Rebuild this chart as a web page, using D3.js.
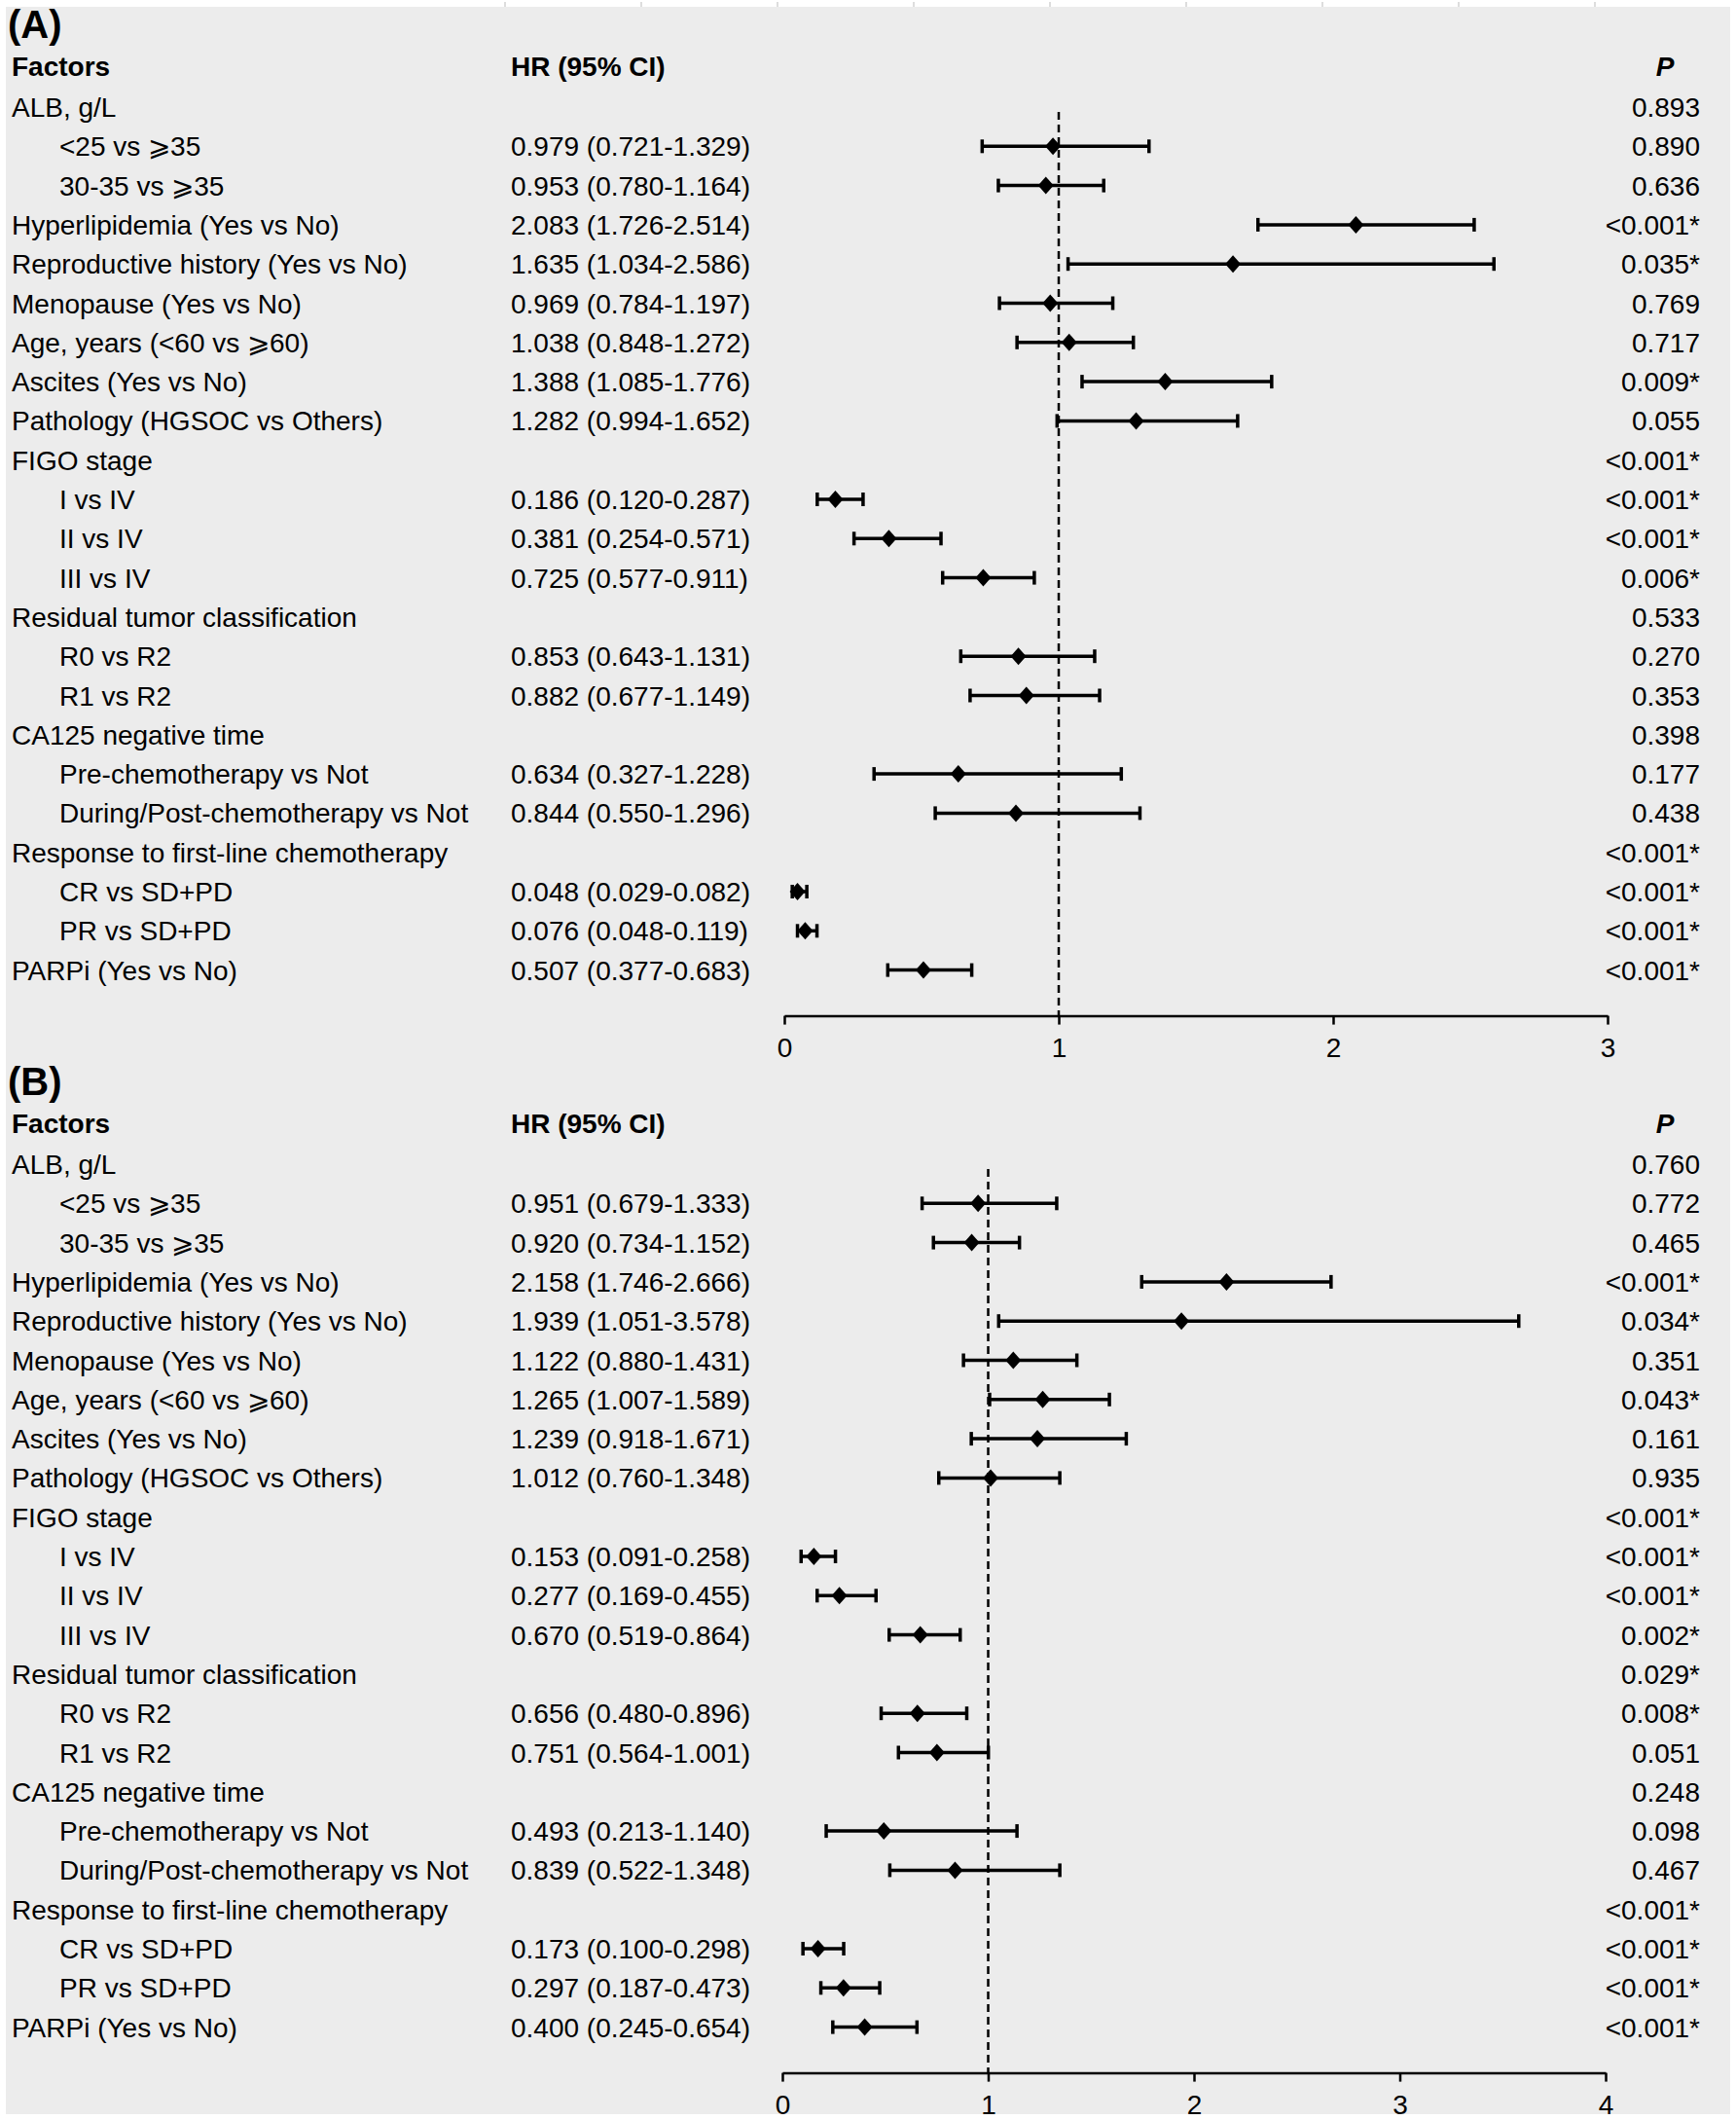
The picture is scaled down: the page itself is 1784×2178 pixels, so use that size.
<!DOCTYPE html>
<html>
<head>
<meta charset="utf-8">
<script src="https://cdn.jsdelivr.net/npm/d3@7"></script>
<style>
  body { margin: 0; background: #fff; }
  text { font-family: "Liberation Sans", Arial, sans-serif; fill: #000; }
</style>
</head>
<body>
<div id="chart"></div>
<script>
// row labels (shared by both panels); indent = sub item
var factors = ["ALB, g/L", "<25 vs \u2A7E35", "30-35 vs \u2A7E35", "Hyperlipidemia (Yes vs No)",
    "Reproductive history (Yes vs No)", "Menopause (Yes vs No)", "Age, years (<60 vs \u2A7E60)",
    "Ascites (Yes vs No)", "Pathology (HGSOC vs Others)", "FIGO stage", "I vs IV", "II vs IV",
    "III vs IV", "Residual tumor classification", "R0 vs R2", "R1 vs R2", "CA125 negative time",
    "Pre-chemotherapy vs Not", "During/Post-chemotherapy vs Not", "Response to first-line chemotherapy",
    "CR vs SD+PD", "PR vs SD+PD", "PARPi (Yes vs No)"];
var indent = [0, 1, 1, 0, 0, 0, 0, 0, 0, 0, 1, 1, 1, 0, 1, 1, 0, 1, 1, 0, 1, 1, 0];

// panel A
var hrA   = [null, 0.979, 0.953, 2.083, 1.635, 0.969, 1.038, 1.388, 1.282, null, 0.186, 0.381, 0.725, null, 0.853, 0.882, null, 0.634, 0.844, null, 0.048, 0.076, 0.507];
var lowA  = [null, 0.721, 0.780, 1.726, 1.034, 0.784, 0.848, 1.085, 0.994, null, 0.120, 0.254, 0.577, null, 0.643, 0.677, null, 0.327, 0.550, null, 0.029, 0.048, 0.377];
var highA = [null, 1.329, 1.164, 2.514, 2.586, 1.197, 1.272, 1.776, 1.652, null, 0.287, 0.571, 0.911, null, 1.131, 1.149, null, 1.228, 1.296, null, 0.082, 0.119, 0.683];
var pA = ["0.893", "0.890", "0.636", "<0.001*", "0.035*", "0.769", "0.717", "0.009*", "0.055", "<0.001*",
    "<0.001*", "<0.001*", "0.006*", "0.533", "0.270", "0.353", "0.398", "0.177", "0.438", "<0.001*",
    "<0.001*", "<0.001*", "<0.001*"];
var ticksA = [0, 1, 2, 3];

// panel B
var hrB   = [null, 0.951, 0.920, 2.158, 1.939, 1.122, 1.265, 1.239, 1.012, null, 0.153, 0.277, 0.670, null, 0.656, 0.751, null, 0.493, 0.839, null, 0.173, 0.297, 0.400];
var lowB  = [null, 0.679, 0.734, 1.746, 1.051, 0.880, 1.007, 0.918, 0.760, null, 0.091, 0.169, 0.519, null, 0.480, 0.564, null, 0.213, 0.522, null, 0.100, 0.187, 0.245];
var highB = [null, 1.333, 1.152, 2.666, 3.578, 1.431, 1.589, 1.671, 1.348, null, 0.258, 0.455, 0.864, null, 0.896, 1.001, null, 1.140, 1.348, null, 0.298, 0.473, 0.654];
var pB = ["0.760", "0.772", "0.465", "<0.001*", "0.034*", "0.351", "0.043*", "0.161", "0.935", "<0.001*",
    "<0.001*", "<0.001*", "0.002*", "0.029*", "0.008*", "0.051", "0.248", "0.098", "0.467", "<0.001*",
    "<0.001*", "<0.001*", "<0.001*"];
var ticksB = [0, 1, 2, 3, 4];

var w = 1784, h = 2178;
var fmt = d3.format(".3f");
var step = 40.3;

var svg = d3.select("#chart").append("svg")
    .attr("width", w)
    .attr("height", h);

svg.append("rect").attr("width", w).attr("height", h).attr("fill", "#fff");
svg.append("rect")
    .attr("x", 6).attr("y", 7)
    .attr("width", 1772).attr("height", 2165)
    .attr("fill", "#ececec");

// faint marks along the top edge
svg.selectAll(".edge")
    .data(d3.range(519, 1700, 140))
    .enter()
    .append("line")
    .attr("x1", function (d) { return d; })
    .attr("x2", function (d) { return d; })
    .attr("y1", 2).attr("y2", 7)
    .attr("stroke", "#bbb")
    .attr("stroke-width", 1);

function panel(top, tag, hr, low, high, pv, ticks, xr) {
    var g = svg.append("g").attr("transform", "translate(0," + top + ")");

    var y = d3.scalePoint()
        .domain(d3.range(factors.length))
        .range([110, 110 + (factors.length - 1) * step]);

    var x = d3.scaleLinear()
        .domain([0, ticks[ticks.length - 1]])
        .range(xr);

    var axisY = y(factors.length - 1) + 47;

    g.append("text")
        .attr("x", 8).attr("y", 39)
        .attr("font-size", 40).attr("font-weight", "bold")
        .text(tag);

    var head = g.append("g").attr("font-size", 28).attr("font-weight", "bold");
    head.append("text").attr("x", 12).attr("y", 78).text("Factors");
    head.append("text").attr("x", 525).attr("y", 78).text("HR (95% CI)");
    head.append("text").attr("x", 1711).attr("y", 78)
        .attr("text-anchor", "middle").attr("font-style", "italic").text("P");

    g.selectAll(".fac")
        .data(factors)
        .enter()
        .append("text")
        .attr("class", "fac")
        .attr("font-size", 28)
        .attr("x", function (d, i) { return indent[i] ? 61 : 12; })
        .attr("y", function (d, i) { return y(i) + 10; })
        .text(function (d) { return d; });

    var rows = d3.range(factors.length).filter(function (i) { return hr[i] != null; });

    g.selectAll(".hr")
        .data(rows)
        .enter()
        .append("text")
        .attr("class", "hr")
        .attr("font-size", 28)
        .attr("x", 525)
        .attr("y", function (i) { return y(i) + 10; })
        .text(function (i) { return fmt(hr[i]) + " (" + fmt(low[i]) + "-" + fmt(high[i]) + ")"; });

    g.selectAll(".pv")
        .data(pv)
        .enter()
        .append("text")
        .attr("class", "pv")
        .attr("font-size", 28)
        .attr("text-anchor", "end")
        .attr("x", 1747)
        .attr("y", function (d, i) { return y(i) + 10; })
        .text(function (d) { return d; });

    // reference line at HR = 1
    g.append("line")
        .attr("x1", x(1)).attr("x2", x(1))
        .attr("y1", 115).attr("y2", axisY)
        .attr("stroke", "#000")
        .attr("stroke-width", 2.5)
        .attr("stroke-dasharray", "8,5");

    g.selectAll(".ci")
        .data(rows)
        .enter()
        .append("line")
        .attr("x1", function (i) { return x(low[i]); })
        .attr("x2", function (i) { return x(high[i]); })
        .attr("y1", function (i) { return y(i); })
        .attr("y2", function (i) { return y(i); })
        .attr("stroke", "#000")
        .attr("stroke-width", 3.5);

    ["low", "high"].forEach(function (side) {
        var arr = side == "low" ? low : high;
        g.selectAll(".cap-" + side)
            .data(rows)
            .enter()
            .append("line")
            .attr("x1", function (i) { return x(arr[i]); })
            .attr("x2", function (i) { return x(arr[i]); })
            .attr("y1", function (i) { return y(i) - 7; })
            .attr("y2", function (i) { return y(i) + 7; })
            .attr("stroke", "#000")
            .attr("stroke-width", 3.5);
    });

    g.selectAll(".dia")
        .data(rows)
        .enter()
        .append("path")
        .attr("d", function (i) {
            var cx = x(hr[i]), cy = y(i);
            return "M" + (cx - 8) + "," + cy + "L" + cx + "," + (cy - 9) +
                "L" + (cx + 8) + "," + cy + "L" + cx + "," + (cy + 9) + "Z";
        })
        .attr("fill", "#000");

    var axis = g.append("g")
        .attr("transform", "translate(0," + axisY + ")")
        .call(d3.axisBottom(x)
            .tickValues(ticks)
            .tickFormat(d3.format("d"))
            .tickSize(9)
            .tickSizeOuter(0)
            .tickPadding(14));
    axis.select(".domain").attr("stroke", "#000").attr("stroke-width", 2.5);
    axis.selectAll(".tick line").attr("stroke", "#000").attr("stroke-width", 2.5);
    axis.selectAll(".tick text")
        .attr("font-size", 28)
        .attr("font-family", "'Liberation Sans', Arial, sans-serif")
        .attr("fill", "#000");
}

panel(0, "(A)", hrA, lowA, highA, pA, ticksA, [806, 1652]);
panel(1086, "(B)", hrB, lowB, highB, pB, ticksB, [804, 1650]);
</script>
</body>
</html>
